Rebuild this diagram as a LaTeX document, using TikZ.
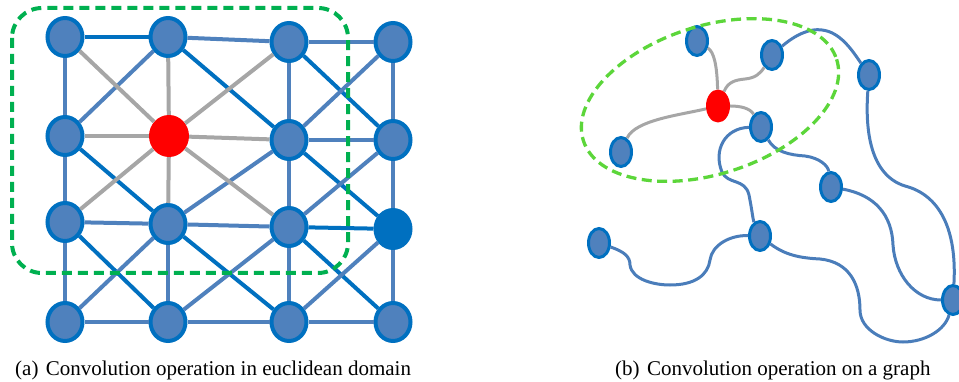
\documentclass[tikz,border=0pt]{standalone}
\usepackage{fontspec}
\setmainfont{Liberation Serif}
\usetikzlibrary{shapes.geometric}
\definecolor{nfill}{HTML}{4F81BD}
\definecolor{nline}{HTML}{0070C0}
\definecolor{elight}{HTML}{4F81BD}
\definecolor{edark}{HTML}{0070C0}
\definecolor{egray}{HTML}{A6A6A6}
\definecolor{gbox}{HTML}{00B050}
\definecolor{gell}{HTML}{5CD63A}
\definecolor{ecurve}{HTML}{4A7DBA}
\tikzset{
  gnode/.style={ellipse, draw=nline, fill=nfill, line width=4pt, minimum width=35pt, minimum height=38pt, inner sep=0pt},
  gnodedark/.style={gnode, fill=nline},
  rednode/.style={ellipse, fill=red, minimum width=40pt, minimum height=42pt, inner sep=0pt},
  snode/.style={ellipse, draw=nline, fill=nfill, line width=3pt, minimum width=21pt, minimum height=29pt, inner sep=0pt},
  sred/.style={ellipse, fill=red, minimum width=24pt, minimum height=33pt, inner sep=0pt},
  el/.style={elight, line width=4pt},
  ed/.style={edark, line width=4pt},
  eg/.style={egray, line width=4pt},
  cg/.style={egray, line width=3pt},
  cb/.style={ecurve, line width=3pt},
  boxline/.style={gbox, line width=4pt, dash pattern=on 10pt off 6pt, rounded corners=30pt},
  ellline/.style={gell, line width=3.3pt, dash pattern=on 10pt off 5.5pt},
  captext/.style={inner sep=0pt, anchor=base west, font=\fontsize{21}{25}\selectfont}
}
\begin{document}
\begin{tikzpicture}[x=1pt,y=-1pt]
\useasboundingbox (0,0) rectangle (959,382);
% ---------- left grid ----------
\node[gnode] (a00) at (65,37) {};
\node[gnode] (a10) at (168,37) {};
\node[gnode] (a20) at (289,42) {};
\node[gnode] (a30) at (393,42) {};
\node[gnode] (a01) at (65,136) {};
\node[rednode] (a11) at (169,136) {};
\node[gnode] (a21) at (289,140) {};
\node[gnode] (a31) at (393,140) {};
\node[gnode] (a02) at (65,222) {};
\node[gnode] (a12) at (168,224) {};
\node[gnode] (a22) at (289,227) {};
\node[gnodedark] (a32) at (393,229) {};
\node[gnode] (a03) at (65,322) {};
\node[gnode] (a13) at (168,322) {};
\node[gnode] (a23) at (289,322) {};
\node[gnode] (a33) at (393,322) {};
% verticals
\draw[el] (a00) -- (a01);
\draw[el] (a01) -- (a02);
\draw[el] (a02) -- (a03);
\draw[el] (a12) -- (a13);
\draw[el] (a20) -- (a21);
\draw[el] (a21) -- (a22);
\draw[el] (a22) -- (a23);
\draw[el] (a30) -- (a31);
\draw[el] (a31) -- (a32);
\draw[el] (a32) -- (a33);
% horizontals
\draw[ed] (a00) -- (a10);
\draw[el] (a10) -- (a20);
\draw[el] (a20) -- (a30);
\draw[el] (a21) -- (a31);
\draw[el] (a02) -- (a12);
\draw[el] (a12) -- (a22);
\draw[ed] (a22) -- (a32);
\draw[el] (a03) -- (a13);
\draw[el] (a13) -- (a23);
\draw[el] (a23) -- (a33);
% diagonals down-right
\draw[ed] (a01) -- (a12);
\draw[ed] (a10) -- (a21);
\draw[ed] (a20) -- (a31);
\draw[ed] (a21) -- (a32);
\draw[ed] (a02) -- (a13);
\draw[ed] (a12) -- (a23);
\draw[ed] (a22) -- (a33);
% diagonals down-left
\draw[el] (a10) -- (a01);
\draw[el] (a30) -- (a21);
\draw[el] (a21) -- (a12);
\draw[el] (a31) -- (a22);
\draw[el] (a12) -- (a03);
\draw[el] (a22) -- (a13);
\draw[el] (a32) -- (a23);
% gray neighbourhood
\foreach \n in {a00,a10,a20,a01,a21,a02,a12,a22}
  \draw[eg] (a11) -- (\n);
% green box
\draw[boxline] (12,8) rectangle (348,273);
% ---------- right graph ----------
\node[snode] (A) at (697,41) {};
\node[snode] (B) at (772,55) {};
\node[snode] (C) at (869,75) {};
\node[sred] (R) at (718,106) {};
\node[snode] (D) at (761,127) {};
\node[snode] (E) at (621,152) {};
\node[snode] (F) at (831,187) {};
\node[snode] (G) at (760,236) {};
\node[snode] (H) at (599,243) {};
\node[snode] (I) at (953,300) {};
% gray curves
\draw[cg] (A) .. controls (714,52) and (717,65) .. (R);
\draw[cg] (R) .. controls (728,82) and (735,80) .. (745,79) .. controls (755,78) and (760,74) .. (B);
\draw[cg] (R) .. controls (740,106) and (750,108) .. (D);
\draw[cg] (R) .. controls (680,115) and (635,120) .. (E);
% blue curves
\draw[cb] (B) .. controls (795,35) and (810,28) .. (822,30) .. controls (840,32) and (852,50) .. (C);
\draw[cb] (C) .. controls (865,130) and (870,175) .. (905,186) .. controls (940,195) and (957,230) .. (I);
\draw[cb] (D) .. controls (725,128) and (713,150) .. (722,172) .. controls (728,185) and (745,178) .. (749,195) .. controls (752,210) and (753,220) .. (G);
\draw[cb] (D) .. controls (775,152) and (790,155) .. (805,156) .. controls (820,158) and (828,166) .. (F);
\draw[cb] (F) .. controls (875,195) and (892,215) .. (893,245) .. controls (895,275) and (915,300) .. (I);
\draw[cb] (H) .. controls (625,252) and (630,257) .. (630,265) .. controls (632,280) and (655,285) .. (670,285) .. controls (695,285) and (708,275) .. (710,260) .. controls (712,245) and (730,235) .. (G);
\draw[cb] (G) .. controls (785,255) and (800,258) .. (820,259) .. controls (850,262) and (860,285) .. (860,310) .. controls (860,330) and (885,342) .. (903,342) .. controls (925,342) and (945,330) .. (I);
% green ellipse
\draw[ellline, rotate around={17.8:(710,100)}] (710,100) ellipse [x radius=133, y radius=74];
% captions
\node[captext] (capa) at (15,375) {(a)\hspace{0.35em}Convolution operation in euclidean domain};
\node[captext] (capb) at (615,375) {(b)\hspace{0.35em}Convolution operation on a graph};
\end{tikzpicture}
\end{document}
